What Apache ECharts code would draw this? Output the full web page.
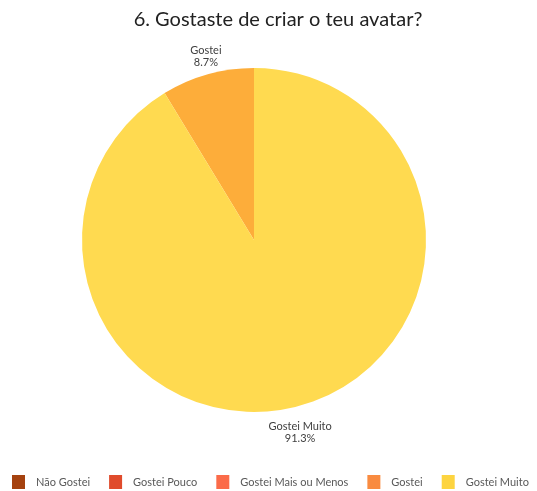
<!DOCTYPE html>
<html>
<head>
<meta charset="utf-8">
<script src="https://cdn.jsdelivr.net/npm/echarts@6/dist/echarts.min.js"></script>
<style>html,body{margin:0;padding:0;background:#fff}#c{width:537px;height:491px}</style>
</head>
<body>
<div id="c"></div>
<script>
var categories = ['Não Gostei', 'Gostei Pouco', 'Gostei Mais ou Menos', 'Gostei', 'Gostei Muito'];
var values = [0, 0, 0, 8.7, 91.3];
var sliceColors = ['#A5420F', '#E04B2C', '#FB6B49', '#FDAD3A', '#FFDA50'];
var legendColors = ['#A5420F', '#E04B2C', '#FB6B49', '#F98B40', '#FDD440'];

var chart = echarts.init(document.getElementById('c'));
var font = 'Lato, "Open Sans", sans-serif';
chart.setOption({
  animation: false,
  title: {
    text: '6. Gostaste de criar o teu avatar?',
    left: 273, top: 5, textAlign: 'center',
    textStyle: { fontFamily: font, fontSize: 20, fontWeight: 'normal', color: '#222' }
  },
  legend: {
    bottom: 2, left: 12, padding: 0,
    itemWidth: 13, itemHeight: 14, itemGap: 19,
    icon: 'rect',
    textStyle: { fontFamily: font, fontSize: 11, color: '#595959', padding: [0, 0, 0, 6] },
    data: categories.map(function (c, i) { return { name: c, itemStyle: { color: legendColors[i] } }; })
  },
  series: [{
    type: 'pie',
    center: [254, 240],
    radius: 172,
    startAngle: 90,
    clockwise: false,
    minShowLabelAngle: 0.01,
    avoidLabelOverlap: false,
    itemStyle: { borderWidth: 0 },
    label: {
      show: true, position: 'outside',
      fontFamily: font, fontSize: 11, color: '#404040', lineHeight: 12,
      formatter: function (p) { return p.value > 0 ? p.name + '\n' + p.value.toFixed(1) + '%' : ''; }
    },
    labelLine: { show: false, length: 10, length2: 0 },
    labelLayout: function (p) {
      var pts = p.labelLinePoints;
      if (!pts) return {};
      var last = pts[pts.length - 1];
      var up = last[1] < 240;
      return { x: last[0] + (up ? 1 : -3), y: last[1] + (up ? 4 : 5), align: 'center', verticalAlign: up ? 'bottom' : 'top' };
    },
    data: categories.map(function (c, i) {
      return { name: c, value: values[i], itemStyle: { color: sliceColors[i] } };
    })
  }]
});
</script>
</body>
</html>
